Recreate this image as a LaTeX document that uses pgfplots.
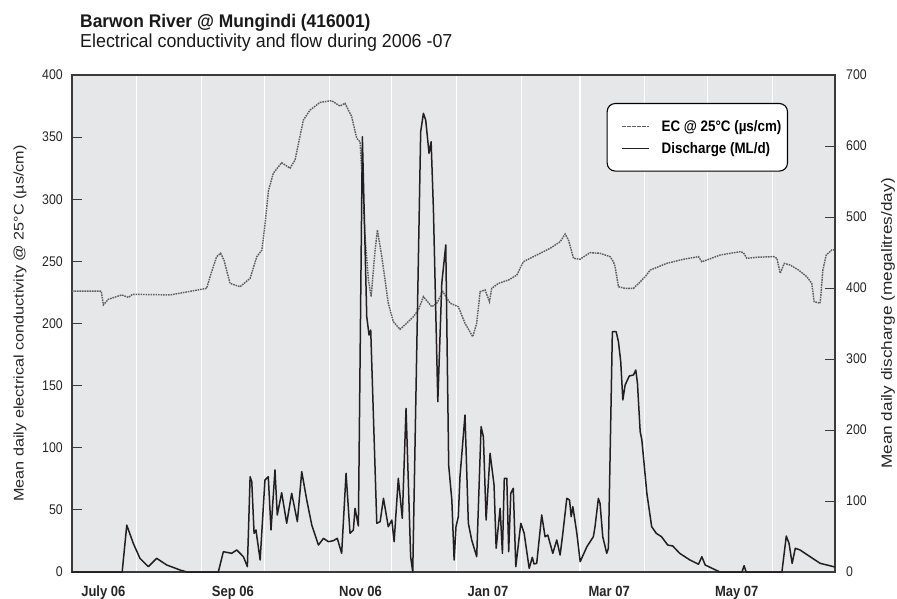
\documentclass[border=0pt]{standalone}
\usepackage{fontspec}
\setmainfont{Liberation Sans}[FakeStretch=0.88]
\newfontfamily\titlefont{Liberation Sans}[FakeStretch=0.95]
\newfontfamily\labelfont{Liberation Sans}
\usepackage{pgfplots}
\pgfplotsset{compat=1.18}
\definecolor{bg}{HTML}{E6E7E9}
\definecolor{ecgray}{HTML}{5E5F62}
\definecolor{qblack}{HTML}{231F20}
\definecolor{framec}{HTML}{3A3A3A}

\pgfplotstableread{
day ec
0 226
14 226
15 215
17.4 219.5
23.8 223
27 221
29 223.5
47 223
53 224.8
64.4 228.3
66.8 241.7
69.2 253.8
71.1 256.5
72.7 251
75.6 232.3
80.4 229.6
85.2 236.3
88.4 253.8
90.8 259
92 275
94 307
96.3 321
100.3 329.4
104.3 325
106.7 331.6
110.7 363.8
113.9 371.8
118.7 378
124.2 379.3
128.2 375
130.6 377.2
133.8 366.4
136.2 349
137.8 346.3
138.6 323.5
140.2 270
141.8 235
143.1 221.6
145 259.2
146.1 275.3
148.2 253.8
151.3 216.3
153.7 201.5
156.9 195.3
160.1 200.2
163.3 205.5
165.7 210.9
168.1 221.6
172.1 213.5
174.5 216.3
177.4 225.6
180.9 216.3
184.8 213.5
188 200.2
191.7 189.4
193.6 200.2
195.2 225.6
197.6 227
199.7 217.6
200.8 228.3
204 232.3
208.8 235
212.8 239
215.9 249.7
222.3 255.1
228.7 260.5
233.5 265.8
235.9 272
237.5 267.2
239.9 252.5
243 251.7
247.8 257
252.6 256.5
257.4 253.8
259 249.7
259.8 245.7
261.4 229.6
264.6 228.3
268.6 228.3
271.5 233
274.2 237.7
276.6 243
284.5 248.4
292.5 251.7
299.7 253.8
301.3 249.7
303.7 251.1
310 255.1
319.6 257.8
321.2 257
322.8 252.5
327.6 253.3
335.6 253.8
337.2 252.5
338.8 240.4
340.7 248.4
343.5 247.1
347.5 243.1
351.5 237.7
353.9 232.3
355 217.6
357.9 216.3
359.2 243.1
360.8 255.1
363.5 259.2
365 259.2
}\ectable

\pgfplotstableread{
day q
0 0
24 0
26.2 66
29.3 40.4
32.5 19.3
36.5 7.5
40.5 19.3
45.3 9.9
51.7 2.8
55 0
70 0
72.4 28.6
76.4 26.3
78.8 31
82 21.5
83.9 7.5
85.2 134.2
86 127.2
87.1 54.5
88 59.2
90 16.9
92.3 129.6
93.9 134.2
95.2 59.2
97.1 143.7
98.2 80.3
100.3 111.7
102.7 68.6
105.1 110.8
107.8 70.9
109.9 141.3
112.3 101.4
114.7 66.2
117.9 38
120.3 47.4
122.7 42.7
125 44.1
126.9 47.4
129 26.3
131.1 139
133 54.5
134.6 59.2
135.4 89.7
137 64.8
138.9 613
141 359.6
142.1 333.8
142.9 340.8
145.8 68.6
147.4 70.9
149 103.8
151.3 63.8
153 73.2
154.1 42.7
156.1 132
158 75.6
159.8 230.5
162 21.5
163 0
166.8 620
168.1 646
169.2 636.6
170.8 589.7
171.8 606.1
172.9 509.9
175 239.9
176.9 406.6
178.8 460.6
180.2 150
181.7 101.4
182.8 16.9
183.7 63.8
184.8 77.9
185.6 134.2
188 221.1
189.6 68.6
191.2 45.1
193.6 21.5
195.7 204.7
196.8 190.6
198.1 73.2
200 167.2
201.9 122.5
202.9 33.4
204.8 89.7
205.9 26.3
206.8 132
208 132
208.9 28.6
209.9 110.8
211.1 117.9
212.3 7.5
214.7 68.6
216.3 54.5
218.7 5.2
220.2 20.7
221 11.3
222.3 12.2
224.7 80.3
226.3 49.7
227.6 52.1
230 26.3
231.9 45.1
233.5 23.9
234.8 54.5
236.7 103.8
238 101.4
238.8 77.9
239.6 92
241.5 54.5
243.1 14.5
246.3 35.6
249.4 49.7
250.2 63.8
251.8 103.8
252.6 96.8
253.9 49.7
255.8 26.3
256.6 33.4
258.5 338.5
260.3 338.5
261.4 324.4
262.5 296.2
263.5 242.3
264.6 263.4
266.6 276.1
268.6 277.5
269.7 284.5
270.5 265.8
271.8 197.6
272.6 185.9
275 110.8
277.3 63.8
279.5 54.5
282 49.7
285 38
287.4 36.6
290.7 26.3
295.6 16.9
299.7 11
301.3 21.5
302.9 9.9
306.9 4.2
310 0
320.5 0
321.5 8.9
322.5 0
339.6 0
341.7 50.7
343 40.4
344.5 12.2
346 33.4
348.3 31
353.1 21.5
357.9 12.2
361.1 9.9
365 7
}\qtable

\begin{document}
\begin{tikzpicture}
\useasboundingbox (-72pt,-26pt) rectangle (825pt,572pt);
\pgfplotsset{
  common/.style={
    scale only axis, width=763pt, height=497pt,
    at={(0pt,0pt)}, anchor=south west,
    xmin=0, xmax=365,
    axis line style={framec, line width=1.4pt},
    major tick length=10pt,
    /pgf/number format/assume math mode=true,
    tick label style={font=\fontsize{14}{16}\selectfont, text=black!85},
    tick align=inside,
  },
  ecstyle/.style={ecgray, line width=1.45pt, dash pattern=on 1.6pt off 0.9pt},
  qstyle/.style={qblack, line width=1.5pt, line join=round},
}
\begin{axis}[common,
  axis background/.style={fill=bg},
  ymin=0, ymax=400, ytick={0,50,...,400},
  ytick pos=left,
  ytick style={framec, line width=1pt},
  yticklabel style={anchor=east, inner sep=0pt, xshift=-9pt},
  xtick={15,77,138,199,257,318},
  xticklabels={July 06, Sep 06, Nov 06, Jan 07, Mar 07, May 07},
  xtick style={draw=none},
  xticklabel style={font=\fontsize{14.8}{16}\selectfont\bfseries, anchor=base, inner sep=0pt, yshift=-24pt},
  minor xtick={31,62,92,123,153,184,215,243,274,304,335},
  minor tick length=0pt,
  xminorgrids=true,
  minor grid style={white, line width=1.1pt},
]
\addplot[ecstyle] table[x=day, y=ec] {\ectable};
\end{axis}
\begin{axis}[common,
  ymin=0, ymax=700, ytick={0,100,...,700},
  axis y line*=right, axis x line=none,
  xtick=\empty,
  ytick style={framec, line width=1pt},
  yticklabel style={anchor=west, inner sep=0pt, xshift=11pt},
  legend style={at={(0.9384,0.9437)}, anchor=north east, draw=black, line width=1.1pt,
    rounded corners=8pt, fill=white, font=\fontsize{15.2}{17}\selectfont\bfseries,
    inner xsep=4pt, inner ysep=14.5pt, row sep=5.5pt},
  legend cell align=left,
  legend image code/.code={\path (-10pt,0pt) (37pt,0pt); \draw[#1] (0pt,0pt) -- (27pt,0pt);},
]
\addlegendimage{ecstyle}
\addlegendentry{EC @ 25°C (µs/cm)}
\addplot[qstyle] table[x=day, y=q] {\qtable};
\addlegendentry{Discharge (ML/d)}
\end{axis}
\node[anchor=base west, inner sep=0pt, font=\titlefont\fontsize{18.3}{20}\selectfont\bfseries, text=black!90] at (8pt,544pt) {Barwon River @ Mungindi (416001)};
\node[anchor=base west, inner sep=0pt, font=\titlefont\fontsize{18.8}{20}\selectfont, text=black!90] at (8pt,524pt) {Electrical conductivity and flow during 2006 -07};
\node[rotate=90, yscale=0.86, font=\labelfont\fontsize{16.2}{18}\selectfont, text=black!85] at (-52pt,248.5pt) {Mean daily electrical conductivity @ 25°C (µs/cm)};
\node[rotate=90, yscale=0.86, font=\labelfont\fontsize{17.2}{19}\selectfont, text=black!85] at (816pt,248.5pt) {Mean daily discharge (megalitres/day)};
\end{tikzpicture}
\end{document}
